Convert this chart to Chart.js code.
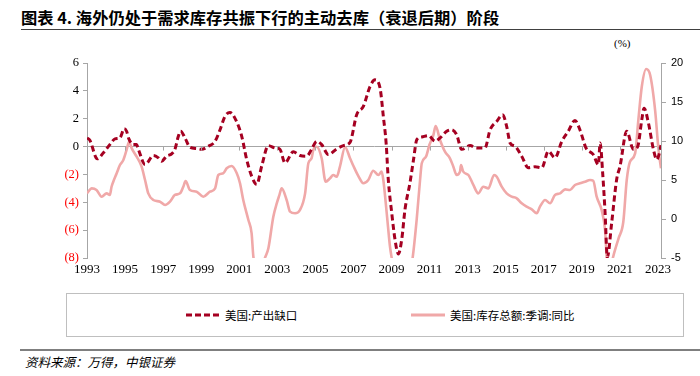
<!DOCTYPE html>
<html>
<head>
<meta charset="utf-8">
<script src="https://cdn.jsdelivr.net/npm/chart.js@4"></script>
<style>
  body { margin: 0; width: 700px; height: 376px; background: #fff; position: relative; overflow: hidden; }
  .abs { position: absolute; }
  #title { left: 21px; top: 5px; font: bold 16.3px "Noto Sans CJK SC"; color: #000; white-space: nowrap; }
  #rule1 { left: 21px; top: 29px; width: 679px; border-top: 1.5px solid #404040; }
  #unit { left: 614px; top: 37px; font: 11px "Liberation Serif"; color: #000; }
  #wrap { left: 0; top: 0; width: 700px; height: 285px; }
  #legend { left: 66px; top: 293px; width: 616px; height: 42px; border: 1px solid #bfbfbf; font: 11.5px "Noto Sans CJK SC"; color: #000; }
  .item { position: absolute; top: 13px; display: flex; align-items: center; white-space: nowrap; }
  .item svg { margin-right: 4px; }
  #rule2 { left: 20px; top: 349px; width: 680px; border-top: 2px solid #7f7f7f; }
  #source { left: 25px; top: 352px; font: italic 12.5px "Noto Sans CJK SC"; color: #000; }
</style>
</head>
<body>
<div id="title" class="abs">图表 4. 海外仍处于需求库存共振下行的主动去库（衰退后期）阶段</div>
<div id="rule1" class="abs"></div>
<div id="unit" class="abs">(%)</div>
<div id="wrap" class="abs"><canvas id="chart"></canvas></div>
<div id="legend" class="abs">
  <div class="item" style="left:118px"><svg width="36" height="6"><line x1="1" y1="3" x2="35" y2="3" stroke="#a50021" stroke-width="3" stroke-dasharray="6,3"/></svg>美国:产出缺口</div>
  <div class="item" style="left:343px"><svg width="36" height="6"><line x1="1" y1="3" x2="35" y2="3" stroke="rgb(240,168,168)" stroke-width="3"/></svg>美国:库存总额:季调:同比</div>
</div>
<div id="rule2" class="abs"></div>
<div id="source" class="abs">资料来源：万得，中银证券</div>

<script>
const yearTicks = [1993, 1995, 1997, 1999, 2001, 2003, 2005, 2007, 2009, 2011, 2013, 2015, 2017, 2019, 2021, 2023];

// 美国:产出缺口 (left axis)
const gapYears = [1993.0, 1993.15, 1993.54, 1993.86, 1994.2, 1994.47, 1994.73, 1994.96, 1995.08, 1995.2, 1995.43, 1995.6, 1995.7,
  1996.05, 1996.17, 1996.48, 1996.75, 1996.92, 1997.18, 1997.45, 1997.62, 1997.8, 1997.92, 1998.15, 1998.41, 1998.76,
  1999.02, 1999.37, 1999.73, 1999.99, 2000.25, 2000.51, 2000.83, 2001.13, 2001.39, 2001.65, 2001.92, 2002.18, 2002.53,
  2002.88, 2003.14, 2003.4, 2003.84, 2004.19, 2004.54, 2004.8, 2005.07, 2005.33, 2005.68, 2006.12, 2006.47, 2006.82,
  2007.17, 2007.52, 2007.87, 2008.13, 2008.4, 2008.57, 2008.72, 2008.83, 2009.01, 2009.18, 2009.36, 2009.54, 2009.71,
  2009.97, 2010.15, 2010.33, 2010.59, 2010.94, 2011.29, 2011.55, 2011.9, 2012.16, 2012.42, 2012.69, 2013.13, 2013.47,
  2013.91, 2014.18, 2014.53, 2014.84, 2015.05, 2015.23, 2015.49, 2015.84, 2016.19, 2016.54, 2016.9, 2017.24, 2017.59,
  2017.95, 2018.29, 2018.64, 2018.9, 2019.22, 2019.6, 2019.87, 2019.96, 2020.1, 2020.22, 2020.34, 2020.57, 2020.83,
  2021.01, 2021.36, 2021.71, 2021.94, 2022.15, 2022.27, 2022.5, 2022.76, 2022.94, 2023.05, 2023.16];
const gapValues = [0.62, 0.45, -0.88, -0.45, 0.14, 0.55, 0.62, 1.29, 1.1, 0.55, 0.14, 0.14, -0.2,
  -1.29, -1.17, -0.64, -0.81, -1.05, -0.69, -0.52, -0.2, 0.74, 1.1, 0.62, -0.05, -0.14,
  -0.2, 0.02, 0.38, 1.21, 2.17, 2.45, 1.88, 0.74, -0.93, -2.12, -2.71, -1.4, 0.07,
  -0.1, -0.2, -1.17, -0.38, -0.64, -0.69, -0.2, 0.38, 0.14, -0.57, -0.17, 0.07, 0.3,
  2.29, 2.88, 4.31, 4.79, 4.19, 2.17, 0.2, -2.36, -4.74, -6.64, -7.71, -6.64, -4.5,
  -2.6, -1.0, 0.5, 0.69, 0.79, 0.38, 0.62, 1.1, 1.21, 0.86, -0.2, 0.07, -0.1,
  -0.1, 1.21, 1.81, 2.29, 1.45, 0.26, 0.02, -0.69, -1.52, -1.45, -1.52, -0.33, -0.81,
  0.38, 1.1, 1.88, 1.21, -0.1, -0.57, -1.29, 0.26, -2.0, -4.7, -7.95, -5.45, -2.36,
  -1.4, 1.1, -0.2, 0.02, 1.93, 2.76, 1.69, -0.2, -0.93, -0.6, 0.1];

// 美国:库存总额:季调:同比 (right axis)
const invYears = [1993.0, 1993.25, 1993.5, 1993.77, 1994.03, 1994.2, 1994.29, 1994.38, 1994.56, 1994.73, 1994.91, 1995.08,
  1995.21, 1995.35, 1995.61, 1995.87, 1996.05, 1996.22, 1996.48, 1996.84, 1997.1, 1997.36, 1997.62, 1997.89, 1998.06,
  1998.18, 1998.41, 1998.76, 1999.11, 1999.46, 1999.73, 1999.9, 2000.16, 2000.34, 2000.6, 2000.87, 2001.04, 2001.21,
  2001.48, 2001.65, 2001.74, 2002.05, 2002.35, 2002.53, 2002.79, 2002.97, 2003.1, 2003.23, 2003.49, 2003.67, 2003.93,
  2004.19, 2004.46, 2004.63, 2004.8, 2004.89, 2005.07, 2005.33, 2005.54, 2005.77, 2005.94, 2006.12, 2006.29, 2006.56,
  2006.82, 2007.0, 2007.26, 2007.52, 2007.78, 2008.04, 2008.31, 2008.48, 2008.57, 2008.75, 2008.92, 2009.01, 2009.55,
  2010.11, 2010.32, 2010.5, 2010.59, 2010.81, 2010.99, 2011.2, 2011.32, 2011.55, 2011.81, 2012.07, 2012.25, 2012.42,
  2012.6, 2012.65, 2012.77, 2013.04, 2013.3, 2013.56, 2013.82, 2014.09, 2014.39, 2014.53, 2014.79, 2015.05, 2015.32,
  2015.58, 2015.84, 2016.1, 2016.37, 2016.63, 2016.8, 2017.07, 2017.33, 2017.59, 2017.86, 2018.12, 2018.38, 2018.64,
  2018.9, 2019.17, 2019.43, 2019.6, 2019.78, 2020.04, 2020.22, 2020.31, 2020.47, 2020.63, 2020.93, 2021.18, 2021.36,
  2021.53, 2021.8, 2021.97, 2022.15, 2022.38, 2022.59, 2022.85, 2023.03, 2023.16];
const invValues = [3.29, 3.93, 3.72, 2.86, 3.29, 3.08, 4.14, 4.78, 5.86, 6.92, 7.56, 8.85,
  9.91, 9.06, 7.99, 6.71, 5.0, 3.29, 2.44, 2.22, 1.79, 2.22, 3.08, 3.29, 4.14,
  4.87, 3.72, 3.5, 2.86, 3.5, 3.93, 5.64, 5.86, 6.5, 6.79, 5.86, 4.58, 2.44,
  -0.13, -1.83, -4.8, -7.5, -5.0, -3.76, 0.3, 2.0, 3.0, 3.93, 2.44, 0.94, 0.73,
  1.15, 3.29, 7.14, 7.78, 8.85, 9.27, 7.78, 4.78, 5.22, 5.64, 5.42, 6.71, 9.2,
  7.8, 6.8, 5.5, 4.58, 5.0, 6.19, 5.64, 6.07, 5.0, 0.73, -3.55, -5.0, -13.0,
  -5.0, -0.13, 5.0, 7.14, 7.99, 9.49, 10.77, 11.92, 10.13, 8.63, 7.78, 6.71, 5.64,
  6.07, 6.92, 6.07, 5.64, 4.36, 3.29, 4.14, 3.93, 5.64, 5.42, 4.14, 3.29, 2.86,
  2.65, 2.01, 1.58, 1.24, 0.73, 1.58, 2.44, 2.01, 3.08, 3.29, 3.8, 3.72, 4.36,
  4.58, 4.78, 5.0, 4.9, 2.86, 1.15, -1.41, -5.0, -7.0, -5.0, -2.47, -0.35, 5.0,
  7.35, 8.42, 12.69, 16.96, 19.23, 18.46, 13.97, 8.85, 6.5];

const axisGrey = '#a6a6a6';

const zeroTicks = {
  id: 'zeroTicks',
  afterDatasetsDraw(chart) {
    const { ctx, scales: { x, y } } = chart;
    const y0 = y.getPixelForValue(0);
    ctx.save();
    ctx.strokeStyle = axisGrey;
    ctx.lineWidth = 1;
    ctx.beginPath();
    yearTicks.forEach(v => {
      const px = Math.round(x.getPixelForValue(v)) + 0.5;
      ctx.moveTo(px, y0);
      ctx.lineTo(px, y0 + 4);
    });
    ctx.stroke();
    ctx.restore();
  }
};

const ctx = document.getElementById('chart').getContext('2d');

new Chart(ctx, {
  type: 'line',
  data: {
    datasets: [
      {
        label: '美国:产出缺口',
        data: gapYears.map((t, i) => ({ x: t, y: gapValues[i] })),
        yAxisID: 'y',
        borderColor: '#a50021',
        borderWidth: 3,
        borderDash: [6, 3.5],
        pointRadius: 0,
        cubicInterpolationMode: 'monotone',
        fill: false
      },
      {
        label: '美国:库存总额:季调:同比',
        data: invYears.map((t, i) => ({ x: t, y: invValues[i] })),
        yAxisID: 'y2',
        borderColor: 'rgb(240,168,168)',
        borderWidth: 2.6,
        pointRadius: 0,
        cubicInterpolationMode: 'monotone',
        fill: false
      }
    ]
  },
  options: {
    responsive: true,
    maintainAspectRatio: false,
    animation: false,
    layout: { padding: { top: 63, left: 0, right: 0, bottom: 0 } },
    plugins: {
      legend: { display: false },
      tooltip: { enabled: false }
    },
    scales: {
      x: {
        type: 'linear',
        min: 1993,
        max: 2023.16,
        afterBuildTicks: s => { s.ticks = yearTicks.map(v => ({ value: v })); },
        afterFit: s => { s.height = 27; },
        grid: { display: false, drawTicks: false },
        border: { display: false },
        ticks: {
          autoSkip: false,
          maxRotation: 0,
          padding: 4,
          color: '#000',
          font: { family: 'Liberation Serif', size: 13 },
          callback: v => String(v)
        }
      },
      y: {
        position: 'left',
        min: -8,
        max: 6,
        afterFit: s => { s.width = 87; },
        grid: {
          color: c => (c.tick && c.tick.value === 0 ? axisGrey : 'rgba(0,0,0,0)'),
          tickColor: axisGrey,
          tickLength: 4,
          lineWidth: 1
        },
        border: { color: axisGrey },
        ticks: {
          stepSize: 2,
          padding: 4,
          font: { family: 'Liberation Serif', size: 12.5 },
          color: c => (c.tick.value < 0 ? '#ff0000' : '#000'),
          callback: v => (v < 0 ? '(' + (-v) + ')' : String(v))
        }
      },
      y2: {
        position: 'right',
        min: -5,
        max: 20,
        afterFit: s => { s.width = 39; },
        grid: { drawOnChartArea: false, tickColor: axisGrey, tickLength: 5 },
        border: { color: axisGrey },
        ticks: {
          stepSize: 5,
          padding: 5,
          color: '#000',
          font: { family: 'Liberation Sans', size: 11 }
        }
      }
    }
  },
  plugins: [zeroTicks]
});
</script>
</body>
</html>
